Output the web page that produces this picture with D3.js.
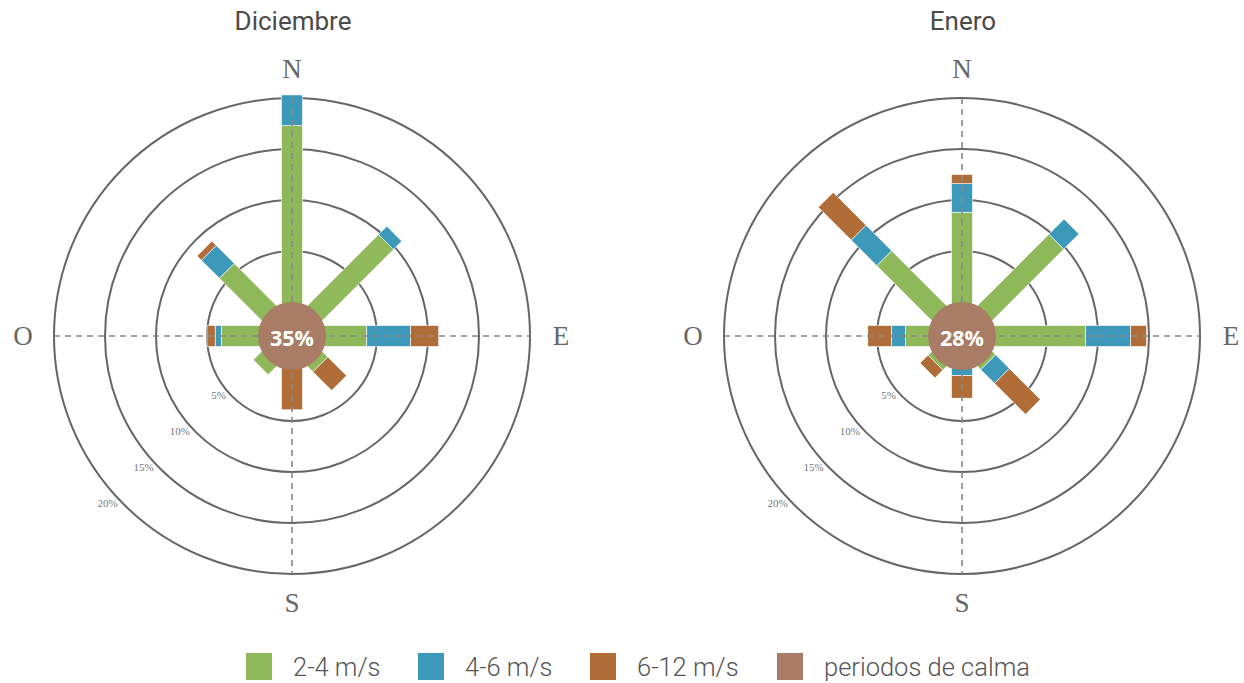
<!DOCTYPE html>
<html>
<head>
<meta charset="utf-8">
<script src="https://cdn.jsdelivr.net/npm/d3@7"></script>
<style>
  html, body { margin: 0; padding: 0; background: #ffffff; }
  svg { display: block; }
</style>
</head>
<body>
<svg id="chart" width="1244" height="683"></svg>
<script>
// ---- data ----
const directions = ["N", "NE", "E", "SE", "S", "SO", "O", "NO"];
const angles = [0, 45, 90, 135, 180, 225, 270, 315];
const seriesNames = ["2-4 m/s", "4-6 m/s", "6-12 m/s"];
const calmLabel = "periodos de calma";
const months = ["Diciembre", "Enero"];
const calm = [35, 28];

const decLow = [17.3, 9.7, 4.0, 0.6, 0.0, 1.0, 3.6, 5.7];
const decMid = [3.0, 1.15, 4.3, 0.0, 0.0, 0.0, 0.6, 2.5];
const decHigh = [0.0, 0.0, 2.75, 2.6, 3.9, 0.0, 0.8, 0.6];

const janLow = [8.8, 9.75, 8.8, 0.3, 0.0, 0.35, 2.2, 7.45];
const janMid = [2.8, 2.1, 4.4, 1.9, 0.56, 0.0, 1.4, 3.55];
const janHigh = [0.9, 0.0, 1.55, 4.3, 2.2, 1.1, 2.3, 4.55];

const ringTicks = [5, 10, 15, 20];
const ringLabels = ["5%", "10%", "15%", "20%"];
const compass = ["N", "E", "S", "O"];
const compassAngles = [0, 90, 180, 270];

const colors = ["#8fb85b", "#3c99ba", "#b06d38"];
const calmColor = "#a97c66";

// ---- drawing ----
const svg = d3.select("#chart");
const centers = [[292, 336], [962, 336]];
const r = d3.scaleLinear().domain([0, 20]).range([34, 238]);
const barW = 21;

const monthData = [
  [decLow, decMid, decHigh],
  [janLow, janMid, janHigh]
];

monthData.forEach((series, mi) => {
  const [cx, cy] = centers[mi];
  const g = svg.append("g").attr("transform", `translate(${cx},${cy})`);

  // title
  svg.append("text")
    .attr("x", cx + 1).attr("y", 30)
    .attr("text-anchor", "middle")
    .attr("font-family", "Roboto, sans-serif")
    .attr("font-size", 26)
    .attr("fill", "#4a4a4a")
    .text(months[mi]);

  // rings
  g.selectAll("circle.ring").data(ringTicks).enter()
    .append("circle")
    .attr("class", "ring")
    .attr("r", d => r(d))
    .attr("fill", "none")
    .attr("stroke", "#666")
    .attr("stroke-width", 2);

  // ring labels
  g.selectAll("text.rl").data(ringTicks).enter()
    .append("text")
    .attr("class", "rl")
    .attr("x", d => -r(d) * Math.SQRT1_2 - 6)
    .attr("y", d => r(d) * Math.SQRT1_2 + 3)
    .attr("text-anchor", "end")
    .attr("font-family", "Liberation Serif, serif")
    .attr("font-size", 11)
    .attr("fill", "#777")
    .text((d, i) => ringLabels[i]);

  // stacked bars
  const stacked = directions.map((dir, di) => {
    let acc = 0;
    return series.map((s, si) => {
      const start = acc;
      acc += s[di];
      return { di, si, start, end: acc, value: s[di] };
    });
  });

  stacked.forEach((segs, di) => {
    const bg = g.append("g").attr("transform", `rotate(${angles[di]})`);
    segs.filter(s => s.value > 0).forEach(s => {
      const y0 = s.start === 0 ? 0 : r(s.start);
      const y1 = r(s.end);
      bg.append("rect")
        .attr("x", -barW / 2)
        .attr("y", -y1)
        .attr("width", barW)
        .attr("height", y1 - y0)
        .attr("fill", colors[s.si])
        .attr("stroke", "#fff")
        .attr("stroke-width", 0.6);
    });
  });

  // dashed axes
  const R = r(20);
  g.append("line").attr("x1", -R).attr("x2", R).attr("y1", 0).attr("y2", 0)
    .attr("stroke", "#888").attr("stroke-width", 1.6).attr("stroke-dasharray", "6,5");
  g.append("line").attr("x1", 0).attr("x2", 0).attr("y1", -R).attr("y2", R)
    .attr("stroke", "#888").attr("stroke-width", 1.6).attr("stroke-dasharray", "6,5");

  // calm circle
  g.append("circle").attr("r", r(0)).attr("fill", calmColor);
  g.append("text")
    .attr("x", 0).attr("y", 1)
    .attr("text-anchor", "middle")
    .attr("dominant-baseline", "central")
    .attr("font-family", "Open Sans, sans-serif")
    .attr("font-weight", 700)
    .attr("font-size", 21.5)
    .attr("fill", "#fff")
    .text(calm[mi] + "%");

  // compass labels
  g.selectAll("text.cmp").data(compass).enter()
    .append("text")
    .attr("class", "cmp")
    .attr("x", (d, i) => Math.sin(compassAngles[i] * Math.PI / 180) * 269)
    .attr("y", (d, i) => -Math.cos(compassAngles[i] * Math.PI / 180) * 267)
    .attr("text-anchor", "middle")
    .attr("dominant-baseline", "central")
    .attr("font-family", "Liberation Serif, serif")
    .attr("font-size", 27)
    .attr("fill", "#666")
    .text(d => d);
});

// legend
const legendItems = seriesNames.map((n, i) => ({ name: n, color: colors[i] }))
  .concat([{ name: calmLabel, color: calmColor }]);
const legendX = [246, 418, 590, 777];
const lg = svg.append("g");
legendItems.forEach((d, i) => {
  lg.append("rect")
    .attr("x", legendX[i]).attr("y", 653)
    .attr("width", 26).attr("height", 27)
    .attr("fill", d.color);
  lg.append("text")
    .attr("x", legendX[i] + 47).attr("y", 676)
    .attr("font-family", "Roboto, sans-serif")
    .attr("font-weight", 300)
    .attr("font-size", 25.5)
    .attr("fill", "#555")
    .text(d.name);
});
</script>
</body>
</html>
